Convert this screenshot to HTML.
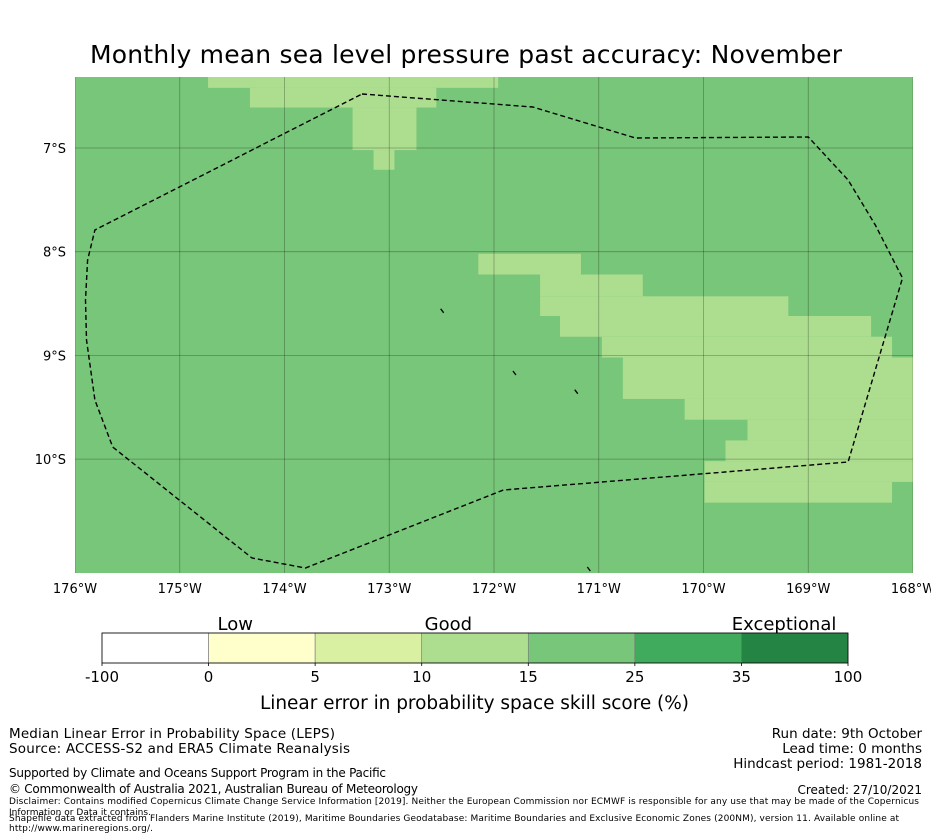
<!DOCTYPE html>
<html><head><meta charset="utf-8"><style>
html,body{margin:0;padding:0;background:#fff;}
svg{display:block;font-family:"DejaVu Sans","Liberation Sans",sans-serif;}
</style></head><body>
<svg id="chart" width="931" height="839" viewBox="0 0 931 839" xmlns="http://www.w3.org/2000/svg">
<rect width="931" height="839" fill="#fff"/>
<text x="90" y="63" font-size="25" textLength="752" fill="#000">Monthly mean sea level pressure past accuracy: November</text>
<g id="map"></g>
<g id="axes"></g>
<g id="cbar"></g>
<g fill="#000">
<text x="9" y="738" font-size="13.5" textLength="326">Median Linear Error in Probability Space (LEPS)</text>
<text x="9" y="753" font-size="13.5" textLength="341">Source: ACCESS-S2 and ERA5 Climate Reanalysis</text>
<text x="9" y="777" font-size="12" textLength="377">Supported by Climate and Oceans Support Program in the Pacific</text>
<text x="9" y="793" font-size="12" textLength="409">© Commonwealth of Australia 2021, Australian Bureau of Meteorology</text>
<text x="9" y="804" font-size="9" textLength="910">Disclaimer: Contains modified Copernicus Climate Change Service Information [2019]. Neither the European Commission nor ECMWF is responsible for any use that may be made of the Copernicus</text>
<text x="9" y="815" font-size="9" textLength="142">Information or Data it contains.</text>
<text x="9" y="821" font-size="9" textLength="890">Shapefile data extracted from Flanders Marine Institute (2019), Maritime Boundaries Geodatabase: Maritime Boundaries and Exclusive Economic Zones (200NM), version 11. Available online at</text>
<text x="9" y="831" font-size="9" textLength="144">http://www.marineregions.org/.</text>
<text x="922" y="738" font-size="13.5" text-anchor="end">Run date: 9th October</text>
<text x="922" y="753" font-size="13.5" text-anchor="end">Lead time: 0 months</text>
<text x="922" y="768" font-size="13.5" text-anchor="end">Hindcast period: 1981-2018</text>
<text x="922" y="794" font-size="12" text-anchor="end">Created: 27/10/2021</text>
</g>
</svg>
<script>
const lonTicks = [-176,-175,-174,-173,-172,-171,-170,-169,-168];
const latTicks = [-7,-8,-9,-10];
const lonLabels = ["176°W","175°W","174°W","173°W","172°W","171°W","170°W","169°W","168°W"];
const latLabels = ["7°S","8°S","9°S","10°S"];
// light-green (10-15) cells: lon0, lon1, latTop, latBottom
const cellLon0 = [-174.73,-174.33,-173.35,-173.15,-172.15,-171.56,-171.56,-171.37,-170.97,-170.77,-170.18,-169.58,-169.79,-169.99,-169.99];
const cellLon1 = [-171.96,-172.55,-172.74,-172.95,-171.17,-170.58,-169.19,-168.40,-168.20,-168.0,-168.0,-168.0,-168.0,-168.0,-168.20];
const cellLatT = [-6.2,-6.42,-6.61,-7.02,-8.02,-8.22,-8.43,-8.62,-8.82,-9.02,-9.42,-9.62,-9.82,-10.02,-10.22];
const cellLatB = [-6.42,-6.61,-7.02,-7.21,-8.22,-8.43,-8.62,-8.82,-9.02,-9.42,-9.62,-9.82,-10.02,-10.22,-10.42];
const eezLon = [-173.26,-171.63,-170.65,-169.00,-168.62,-168.36,-168.10,-168.62,-171.91,-173.80,-174.31,-175.64,-175.81,-175.89,-175.90,-175.88,-175.81];
const eezLat = [-6.479,-6.605,-6.904,-6.894,-7.309,-7.743,-8.254,-10.028,-10.298,-11.050,-10.954,-9.883,-9.430,-8.851,-8.466,-8.080,-7.791];
const islandLon = [-172.49,-171.80,-171.21,-171.09];
const islandLat = [-8.57,-9.17,-9.35,-11.06];
const cbarColors = ["#ffffff","#ffffcc","#d9f0a3","#addd8e","#78c679","#41ab5d","#238443"];
const cbarTicks = ["-100","0","5","10","15","25","35","100"];
const cbarCats = ["Low","Good","Exceptional"];
const cbarCatPos = [1.25,3.25,6.4];

const NS="http://www.w3.org/2000/svg";
const X0=75,X1=913,Y0=77,Y1=573;
const LON0=-176,LON1=-168;
const xs = lon => X0 + (lon-LON0)/(LON1-LON0)*(X1-X0);
const ys = lat => 148 + (-7-lat)*103.7;
function mk(tag, parent, attrs){const e=document.createElementNS(NS,tag);for(const k in attrs)e.setAttribute(k,attrs[k]);parent.appendChild(e);return e;}
const map=document.getElementById('map'), axes=document.getElementById('axes'), cbar=document.getElementById('cbar');
const cp=mk('clipPath',map,{id:'mc'});
mk('rect',cp,{x:X0,y:Y0,width:X1-X0,height:Y1-Y0});
const bg=mk('rect',map,{x:X0,y:Y0,width:X1-X0,height:Y1-Y0,fill:'#78c679'});


const cg=mk('g',map,{'clip-path':'url(#mc)'});
for(let i=0;i<cellLon0.length;i++){
  const r=mk('rect',cg,{x:xs(cellLon0[i]),y:ys(cellLatT[i]),width:xs(cellLon1[i])-xs(cellLon0[i]),height:ys(cellLatB[i])-ys(cellLatT[i]),fill:'#addd8e'});
  
  
}
lonTicks.forEach((lon,i)=>{
  const l=mk('line',cg,{x1:xs(lon),x2:xs(lon),y1:Y0,y2:Y1,stroke:'rgba(0,0,0,0.3)','stroke-width':0.8});
  
  
  const t=mk('text',axes,{x:xs(lon),y:593,'font-size':13,'text-anchor':'middle'});t.textContent=lonLabels[i];
  
  
});
latTicks.forEach((lat,i)=>{
  const l=mk('line',cg,{x1:X0,x2:X1,y1:ys(lat),y2:ys(lat),stroke:'rgba(0,0,0,0.3)','stroke-width':0.8});
  
  
  const t=mk('text',axes,{x:66,y:ys(lat)+5,'font-size':13,'text-anchor':'end'});t.textContent=latLabels[i];
  
  
});
const pts=eezLon.map((lo,i)=>xs(lo).toFixed(1)+','+ys(eezLat[i]).toFixed(1)).join(' ');
const eez=mk('polygon',cg,{points:pts,fill:'none',stroke:'#000','stroke-width':1.4,'stroke-dasharray':'5,3'});


islandLon.forEach((lo,i)=>{
  const x=xs(lo),y=ys(islandLat[i]);
  const s=mk('line',cg,{x1:x-2,y1:y-2,x2:x+1,y2:y+2,stroke:'#000','stroke-width':1.3});
  
  
});
const CB0=102,CB1=848,CBY=633,CBH=30,seg=(CB1-CB0)/cbarColors.length;
cbarColors.forEach((c,i)=>{
  const r=mk('rect',cbar,{x:CB0+i*seg,y:CBY,width:seg,height:CBH,fill:c,stroke:'#777','stroke-width':0.6});
  
  
});
mk('rect',cbar,{x:CB0,y:CBY,width:CB1-CB0,height:CBH,fill:'none',stroke:'#000','stroke-width':0.8});
cbarTicks.forEach((t,i)=>{
  const x=CB0+i*seg;
  mk('line',cbar,{x1:x,x2:x,y1:CBY+CBH,y2:CBY+CBH+3,stroke:'#000','stroke-width':0.8});
  const e=mk('text',cbar,{x:x,y:682,'font-size':15,'text-anchor':'middle'});e.textContent=t;
  
  
});
cbarCats.forEach((c,i)=>{
  const e=mk('text',cbar,{x:CB0+cbarCatPos[i]*seg,y:630,'font-size':18,'text-anchor':'middle'});e.textContent=c;
  
  
});
const ct=mk('text',cbar,{x:260,y:709,'font-size':18.5,textLength:429});ct.textContent='Linear error in probability space skill score (%)';


</script>
</body></html>
